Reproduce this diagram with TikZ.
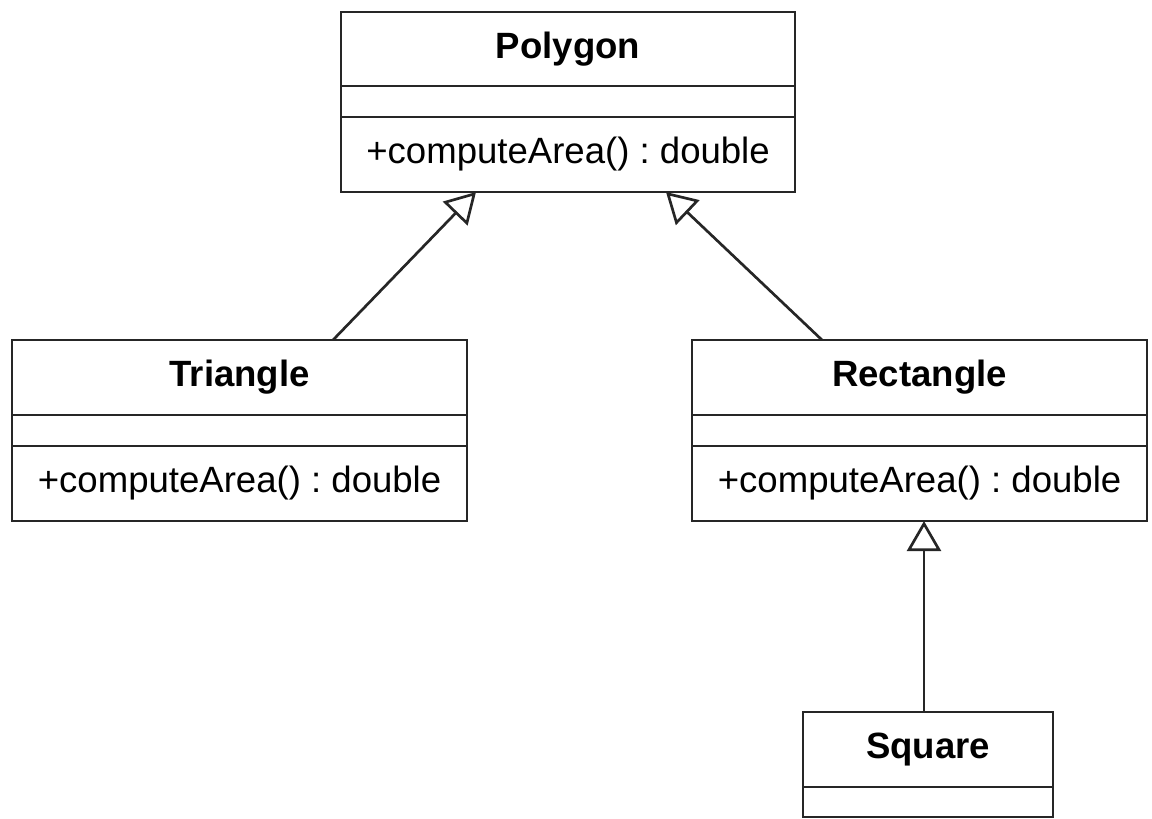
\documentclass[tikz,border=0pt]{standalone}
\usepackage{fontspec}
\setmainfont{Liberation Sans}
\frenchspacing
\usetikzlibrary{arrows.meta,calc}
\begin{document}
\begin{tikzpicture}[x=0.025cm,y=-0.025cm,
  comp/.style={draw=black!85, line width=1.9pt, inner sep=0pt, outer sep=0pt, anchor=north west,
    font=\fontsize{26}{30}\selectfont, align=center},
  ttl/.style={comp, font=\fontsize{26}{30}\selectfont\bfseries},
  inh/.style={draw=black!85, line width=1.9pt,
    -{Triangle[open, length=0.75cm, width=0.85cm, line width=1.9pt, fill=white]}}]
\useasboundingbox (0,0) rectangle (1152,819);
% Polygon
\node[ttl, minimum width=11.35cm, minimum height=1.85cm] (polyT) at (341,12) {Polygon};
\node[comp, minimum width=11.35cm, minimum height=0.775cm] (polyA) at (polyT.south west) {};
\node[comp, minimum width=11.35cm, minimum height=1.875cm] (polyO) at (polyA.south west) {+computeArea() : double};
% Triangle
\node[ttl, minimum width=11.375cm, minimum height=1.875cm] (triT) at (12,340) {Triangle};
\node[comp, minimum width=11.375cm, minimum height=0.775cm] (triA) at (triT.south west) {};
\node[comp, minimum width=11.375cm, minimum height=1.875cm] (triO) at (triA.south west) {+computeArea() : double};
% Rectangle
\node[ttl, minimum width=11.375cm, minimum height=1.875cm] (recT) at (692,340) {Rectangle};
\node[comp, minimum width=11.375cm, minimum height=0.775cm] (recA) at (recT.south west) {};
\node[comp, minimum width=11.375cm, minimum height=1.875cm] (recO) at (recA.south west) {+computeArea() : double};
% Square
\node[ttl, minimum width=6.25cm, minimum height=1.875cm] (sqT) at (803,712) {Square};
\node[comp, minimum width=6.25cm, minimum height=0.75cm] (sqA) at (sqT.south west) {};
% Inheritance
\draw[inh] ($(triT.north west)+(321,0)$) -- ($(polyO.south west)+(135,0)$);
\draw[inh] ($(recT.north west)+(130,0)$) -- ($(polyO.south west)+(325,0)$);
\draw[inh] ($(sqT.north west)+(121,0)$) -- ($(recO.south west)+(232,0)$);
\end{tikzpicture}
\end{document}
